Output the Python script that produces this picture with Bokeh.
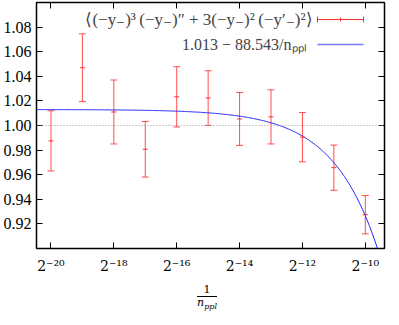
import numpy as np
from bokeh.plotting import figure
from bokeh.layouts import column
from bokeh.models import (ColumnDataSource, Whisker, TeeHead, FixedTicker,
                          CustomJSTickFormatter, LinearAxis, LogAxis, Span,
                          Label, Arrow, Range1d, Div)
from bokeh.embed import file_html
from bokeh.resources import INLINE

# ---- data ----
exponents = [-20, -19, -18, -17, -16, -15, -14, -13, -12, -11, -10]
means = [0.9875, 1.047, 1.011, 0.9807, 1.0233, 1.0223, 1.0053, 1.007, 0.9905, 0.9657, 0.9275]
errors = [0.0245, 0.0275, 0.026, 0.0226, 0.0245, 0.0222, 0.0215, 0.022, 0.020, 0.0184, 0.0156]
fit_a = 1.013
fit_b = 88.543
x_tick_exponents = [-20, -18, -16, -14, -12, -10]
y_ticks = [0.92, 0.94, 0.96, 0.98, 1.00, 1.02, 1.04, 1.06, 1.08]
x_lo_exp, x_hi_exp = -20.46, -9.39
y_lo, y_hi = 0.90, 1.10
ref_level = 1.0

FONT = "Liberation Serif"
XFONT = "DejaVu Serif"
RED = "#ff3030"
BLUE = "#2020ff"
FW, FH = 348, 246
LEFT = 33

xs = [2.0 ** e for e in exponents]
src = ColumnDataSource(dict(
    x=xs, y=means,
    lower=[m - e for m, e in zip(means, errors)],
    upper=[m + e for m, e in zip(means, errors)],
))

fx = np.logspace(x_lo_exp, x_hi_exp, 400, base=2.0)
fy = fit_a - fit_b * fx

p = figure(frame_width=FW, frame_height=FH, x_axis_type="log",
           x_range=Range1d(2.0 ** x_lo_exp, 2.0 ** x_hi_exp),
           y_range=Range1d(y_lo, y_hi),
           output_backend="svg", toolbar_location=None,
           min_border_left=LEFT, min_border_right=2, min_border_top=2,
           min_border_bottom=4)
p.grid.visible = False
p.outline_line_color = "black"
p.outline_line_width = 1.5
p.background_fill_color = "white"
p.border_fill_color = "white"

# reference dotted line
p.add_layout(Span(location=ref_level, dimension="width", line_color="#9a9a9a",
                  line_dash="1 2", line_width=1))

# fit curve
p.line(fx, fy, line_color=BLUE, line_width=1)

# error bars
wh = Whisker(source=src, base="x", lower="lower", upper="upper",
             line_color=RED, line_width=1, line_alpha=0.85,
             upper_head=TeeHead(size=7, line_color=RED, line_width=1, line_alpha=0.85),
             lower_head=TeeHead(size=7, line_color=RED, line_width=1, line_alpha=0.85))
p.add_layout(wh)
p.scatter("x", "y", source=src, marker="dash", size=5, line_color=RED,
          line_width=1)

fmt_code = """
const e = Math.round(Math.log2(tick));
const sup = {'-':'\u207b','0':'\u2070','1':'\u00b9','2':'\u00b2','3':'\u00b3','4':'\u2074','5':'\u2075','6':'\u2076','7':'\u2077','8':'\u2078','9':'\u2079'};
return '2' + String(e).split('').map(c => sup[c]).join('');
"""
empty_fmt = CustomJSTickFormatter(code="return '';")

def style(ax, labels=True):
    ax.axis_line_color = None
    ax.major_tick_in = 6
    ax.major_tick_out = 0
    ax.minor_tick_in = 0
    ax.minor_tick_out = 0
    ax.major_tick_line_color = "black"
    ax.major_tick_line_width = 1
    ax.major_label_text_font = FONT
    ax.major_label_text_color = "black"
    ax.major_label_text_font_size = "16px"
    ax.major_label_standoff = 5 if labels else 0

xa = p.xaxis[0]
xa.ticker = FixedTicker(ticks=[2.0 ** e for e in x_tick_exponents], minor_ticks=[])
xa.formatter = CustomJSTickFormatter(code=fmt_code)
style(xa)
xa.major_label_text_font = XFONT
xa.major_label_text_font_size = "14px"
xa.major_label_standoff = 9

ya = p.yaxis[0]
ya.ticker = FixedTicker(ticks=y_ticks, minor_ticks=[])
ya.formatter = CustomJSTickFormatter(code="return tick.toFixed(2);")
style(ya)

top = LogAxis(ticker=FixedTicker(ticks=[2.0 ** e for e in x_tick_exponents], minor_ticks=[]),
              formatter=empty_fmt)
style(top, labels=False)
p.add_layout(top, "above")
right = LinearAxis(ticker=FixedTicker(ticks=y_ticks, minor_ticks=[]), formatter=empty_fmt)
style(right, labels=False)
p.add_layout(right, "right")

# legend (label left, sample right, as in the reference)
ts = "\u2009"
leg1 = ("\u27e8(\u2212y\u208b)\u00b3" + ts + "(\u2212y\u208b)\u2033 + 3(\u2212y\u208b)\u00b2"
        + ts + "(\u2212y\u2032\u208b)\u00b2\u27e9")
leg2 = f"{fit_a:.3f} \u2212 {fit_b:.3f}/n\u209a\u209a\u2097"
r1 = FH - 17
r2 = FH - 42
p.add_layout(Label(x=FW - 78, y=r1, x_units="screen", y_units="screen", text=leg1,
                   text_font=FONT, text_font_size="17px", text_align="right",
                   text_baseline="middle"))
p.add_layout(Label(x=FW - 78, y=r2, x_units="screen", y_units="screen", text=leg2,
                   text_font=FONT, text_font_size="16px", text_align="right",
                   text_baseline="middle"))
p.add_layout(Arrow(x_start=FW - 67, y_start=r1, x_end=FW - 21, y_end=r1,
                   start_units="screen", end_units="screen",
                   start=TeeHead(size=6, line_color=RED, line_width=1),
                   end=TeeHead(size=6, line_color=RED, line_width=1),
                   line_color=RED, line_width=1))
p.add_layout(Arrow(x_start=FW - 44, y_start=r1 - 2, x_end=FW - 44, y_end=r1 + 2,
                   start_units="screen", end_units="screen", end=None,
                   line_color=RED, line_width=1))
p.add_layout(Arrow(x_start=FW - 67, y_start=r2, x_end=FW - 21, y_end=r2,
                   start_units="screen", end_units="screen", end=None,
                   line_color=BLUE, line_width=1.5, line_alpha=0.6))

# x axis title: stacked fraction 1 / n_ppl
frac_html = (
    f"<div style='width:{LEFT + FW}px;padding-left:{LEFT}px;padding-top:8px;box-sizing:border-box;"
    "text-align:center;font-family:\"DejaVu Serif\";font-size:11px;line-height:12px;color:black'>"
    "<span style='display:inline-block;text-align:center'>"
    "<span style='display:block;border-bottom:1px solid black;padding:0 1px'>1</span>"
    "<span style='display:block'><i>n</i><sub style='font-size:8px;font-style:italic'>ppl</sub></span>"
    "</span></div>"
)
frac = Div(text=frac_html, width=LEFT + FW + 2, height=32, margin=(0, 0, 0, 0))

open("out.html", "w").write(file_html(column(p, frac, spacing=0), INLINE))
